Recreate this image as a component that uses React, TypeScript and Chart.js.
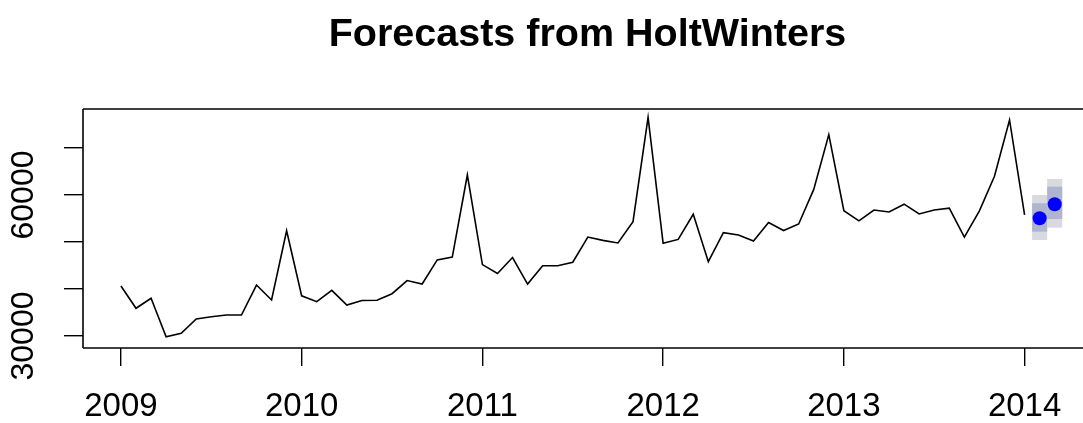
import { useEffect, useRef } from 'react';
import { Chart, registerables } from 'chart.js';

Chart.register(...registerables);

// Monthly series, January 2009 through January 2014
const START_YEAR = 2009;
const observed = [
  40640, 35900, 38020, 29850, 30570, 33620, 34110, 34470, 34470, 40850, 37660, 52400,
  38550, 37300, 39700, 36600, 37550, 37600, 39000, 41800, 41060, 46200, 46800, 64260,
  45200, 43300, 46700, 41060, 44960, 44960, 45700, 51050, 50350, 49800, 54320, 76500,
  49720, 50550, 55900, 45810, 51990, 51500, 50210, 54150, 52450, 53830, 61200, 72850,
  56670, 54500, 56810, 56400, 58050, 55960, 56800, 57200, 51050, 56630, 64000, 75960,
  55750,
];

// Two-step-ahead forecasts with 80% and 95% prediction intervals
const forecastMean = [55050, 58020];
const lower80 = [52200, 54900];
const upper80 = [58240, 61780];
const lower95 = [50430, 53050];
const upper95 = [60000, 63400];

const yearTicks = [2009, 2010, 2011, 2012, 2013, 2014];
const valueTicks = [30000, 40000, 50000, 60000, 70000];
const labelledValues = [30000, 60000];

const X_MIN = 2008.79;
const X_MAX = 2014.373;
const Y_MIN = 27450;
const Y_MAX = 78300;

const FONT = "'Liberation Sans', Arial, sans-serif";

const monthTime = (i: number) => START_YEAR + i / 12;

// Shaded prediction-interval rectangles, one month wide around each forecast
const intervalBands = {
  id: 'intervalBands',
  beforeDatasetsDraw(chart: any) {
    const { ctx, scales } = chart;
    const xs = scales.x;
    const ys = scales.y;
    const drawLevel = (lo: number[], hi: number[], color: string) => {
      lo.forEach((l, k) => {
        const t = monthTime(observed.length + k);
        const x0 = xs.getPixelForValue(t - 1 / 24);
        const x1 = xs.getPixelForValue(t + 1 / 24);
        const y0 = ys.getPixelForValue(hi[k]);
        const y1 = ys.getPixelForValue(l);
        ctx.fillStyle = color;
        ctx.fillRect(x0, y0, x1 - x0, y1 - y0);
      });
    };
    ctx.save();
    drawLevel(lower95, upper95, '#D9DAE0');
    drawLevel(lower80, upper80, '#AFB4D1');
    ctx.restore();
  },
};

// Frame around the plotting region (left, top and bottom sides)
const plotFrame = {
  id: 'plotFrame',
  afterDraw(chart: any) {
    const { ctx, chartArea } = chart;
    const right = chartArea.right;
    ctx.save();
    ctx.strokeStyle = '#000';
    ctx.lineWidth = 1.6;
    ctx.beginPath();
    ctx.moveTo(chartArea.left, chartArea.top);
    ctx.lineTo(right, chartArea.top);
    ctx.stroke();
    ctx.beginPath();
    ctx.moveTo(chartArea.left, chartArea.top);
    ctx.lineTo(chartArea.left, chartArea.bottom);
    ctx.stroke();
    ctx.beginPath();
    ctx.moveTo(chartArea.left, chartArea.bottom);
    ctx.lineTo(right, chartArea.bottom);
    ctx.stroke();
    ctx.restore();
  },
};

export default function App() {
  const canvasRef = useRef<HTMLCanvasElement | null>(null);

  useEffect(() => {
    const canvas = canvasRef.current;
    if (!canvas) return;

    const seriesPoints = observed.map((v, i) => ({ x: monthTime(i), y: v }));
    const forecastPoints = forecastMean.map((v, k) => ({
      x: monthTime(observed.length + k),
      y: v,
    }));

    const chart = new Chart(canvas, {
      type: 'line',
      data: {
        datasets: [
          {
            label: 'Observed',
            data: seriesPoints,
            borderColor: '#000',
            borderWidth: 1.6,
            pointRadius: 0,
            tension: 0,
            fill: false,
          },
          {
            label: 'Forecast',
            data: forecastPoints,
            showLine: false,
            pointRadius: 7,
            pointBackgroundColor: '#0000FF',
            pointBorderColor: '#0000FF',
            pointBorderWidth: 0,
          },
        ],
      },
      options: {
        responsive: false,
        animation: false,
        devicePixelRatio: 1,
        layout: { padding: { left: 0, top: 0, right: 8, bottom: 0 } },
        plugins: {
          legend: { display: false },
          tooltip: { enabled: false },
          title: {
            display: true,
            text: 'Forecasts from HoltWinters',
            color: '#000',
            fullSize: false,
            font: { family: FONT, size: 39.5, weight: 'bold', lineHeight: 1.2 },
            padding: { top: 11, bottom: 50.6 },
          },
        },
        scales: {
          x: {
            type: 'linear',
            min: X_MIN,
            max: X_MAX,
            afterBuildTicks: (scale: any) => {
              scale.ticks = yearTicks.map((v) => ({ value: v }));
            },
            afterFit: (scale: any) => {
              scale.height = 75;
            },
            border: { display: false },
            grid: {
              drawOnChartArea: false,
              drawTicks: true,
              tickLength: 18,
              color: '#000',
              lineWidth: 1.4,
            },
            ticks: {
              autoSkip: false,
              minRotation: 0,
              maxRotation: 0,
              padding: 21,
              color: '#000',
              font: { family: FONT, size: 33 },
              callback: (v: any) => String(v),
            },
          },
          y: {
            type: 'linear',
            min: Y_MIN,
            max: Y_MAX,
            afterBuildTicks: (scale: any) => {
              scale.ticks = valueTicks.map((v) => ({ value: v }));
            },
            afterFit: (scale: any) => {
              scale.width = 83;
            },
            border: { display: false },
            grid: {
              drawOnChartArea: false,
              drawTicks: true,
              tickLength: 19,
              color: '#000',
              lineWidth: 1.4,
            },
            ticks: {
              autoSkip: false,
              minRotation: 90,
              maxRotation: 90,
              crossAlign: 'center',
              padding: -5,
              color: '#000',
              font: { family: FONT, size: 32 },
              callback: (v: any) => (labelledValues.includes(v) ? String(v) : ''),
            },
          },
        },
      },
      plugins: [intervalBands, plotFrame],
    } as any);

    return () => chart.destroy();
  }, []);

  return (
    <div
      style={{
        position: 'fixed',
        left: 0,
        top: 0,
        width: 1083,
        height: 423,
        overflow: 'hidden',
        background: '#fff',
      }}
    >
      <canvas ref={canvasRef} width={1100} height={423} style={{ display: 'block' }} />
    </div>
  );
}
